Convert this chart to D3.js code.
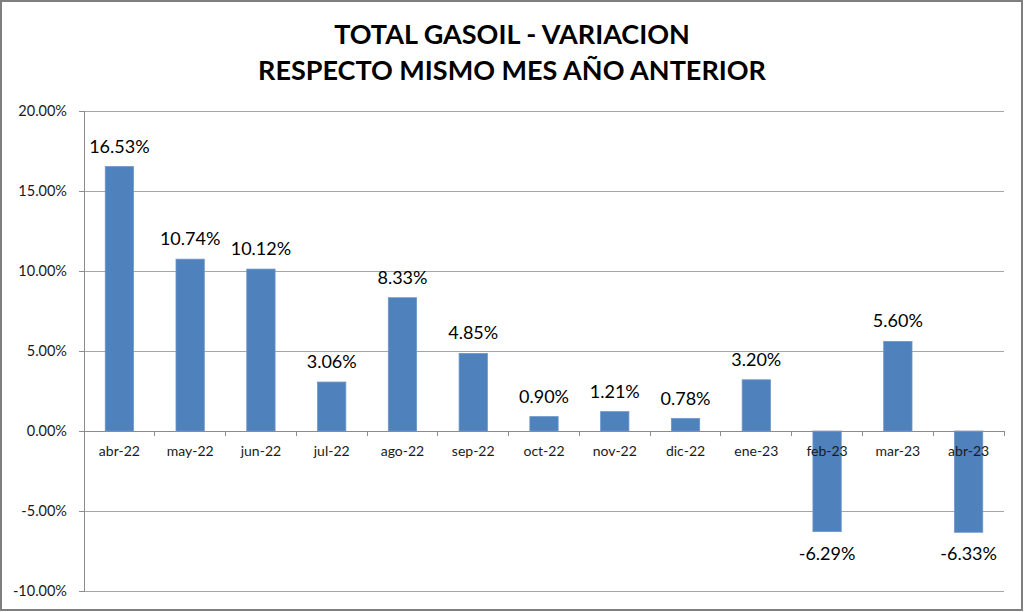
<!DOCTYPE html>
<html><head><meta charset="utf-8">
<script src="https://cdn.jsdelivr.net/npm/d3@7"></script>
<style>html,body{margin:0;padding:0;background:#fff}svg{display:block}</style>
</head><body>
<script>
const categories = ["abr-22","may-22","jun-22","jul-22","ago-22","sep-22","oct-22","nov-22","dic-22","ene-23","feb-23","mar-23","abr-23"];
const values = [16.53,10.74,10.12,3.06,8.33,4.85,0.90,1.21,0.78,3.20,-6.29,5.60,-6.33];
const yTicks = [-10,-5,0,5,10,15,20];
const titleLines = ["TOTAL GASOIL - VARIACION","RESPECTO MISMO MES AÑO ANTERIOR"];

const W = 1024, H = 612;
const m = {left:84, right:1004, top:111, bottom:591};
const font = "Lato, 'Open Sans', sans-serif";

const svg = d3.select("body").append("svg").attr("width",W).attr("height",H);
svg.append("rect").attr("x",1).attr("y",1).attr("width",W-3).attr("height",H-3)
  .attr("fill","#fff").attr("stroke","#7f7f7f").attr("stroke-width",2);

const x = d3.scaleBand().domain(categories).range([m.left,m.right]).paddingInner(0.6).paddingOuter(0.3);
const xb = d3.scaleBand().domain(categories).range([m.left,m.right]);
const y = d3.scaleLinear().domain([-10,20]).range([m.bottom,m.top]);

// gridlines
svg.append("g").selectAll("line").data(yTicks).join("line")
  .attr("x1",m.left).attr("x2",m.right).attr("y1",d=>y(d)).attr("y2",d=>y(d))
  .attr("stroke","#a6a6a6").attr("stroke-width",1).attr("shape-rendering","crispEdges");

// y axis
const yAxis = d3.axisLeft(y).tickValues(yTicks).tickSize(5).tickPadding(12).tickFormat(d=>d.toFixed(2)+"%");
const gy = svg.append("g").attr("transform",`translate(${m.left},0)`).call(yAxis);
gy.select(".domain").attr("stroke","#8c8c8c").attr("shape-rendering","crispEdges");
gy.selectAll(".tick line").attr("stroke","#8c8c8c").attr("shape-rendering","crispEdges");
gy.selectAll("text").attr("font-family",font).attr("font-size",14.5).attr("fill","#1a1a1a");

// bars
svg.append("g").selectAll("rect").data(values).join("rect")
  .attr("x",(d,i)=>x(categories[i]))
  .attr("width",x.bandwidth())
  .attr("y",d=>y(Math.max(0,d)))
  .attr("height",d=>Math.abs(y(d)-y(0)))
  .attr("fill","#4f81bd").attr("stroke","#6d97c9").attr("stroke-width",0.8);

// x axis at zero
const gx = svg.append("g").attr("transform",`translate(0,${y(0)})`);
gx.append("line").attr("x1",m.left).attr("x2",m.right).attr("y1",0).attr("y2",0)
  .attr("stroke","#8c8c8c").attr("shape-rendering","crispEdges");
const bounds = categories.map(c=>xb(c)).concat([m.right]);
gx.selectAll("line.t").data(bounds).join("line").attr("class","t")
  .attr("x1",d=>d).attr("x2",d=>d).attr("y1",0).attr("y2",5)
  .attr("stroke","#8c8c8c").attr("shape-rendering","crispEdges");
gx.selectAll("text").data(categories).join("text")
  .attr("x",d=>xb(d)+xb.bandwidth()/2).attr("y",25)
  .attr("text-anchor","middle").attr("font-family",font).attr("font-size",14).attr("fill","#1a1a1a")
  .text(d=>d);

// data labels
svg.append("g").selectAll("text").data(values).join("text")
  .attr("x",(d,i)=>xb(categories[i])+xb.bandwidth()/2)
  .attr("y",d=> d>=0 ? y(d)-14 : y(d)+28)
  .attr("text-anchor","middle").attr("font-family",font).attr("font-size",18).attr("fill","#000")
  .text(d=>d.toFixed(2)+"%");

// title
svg.append("g").selectAll("text").data(titleLines).join("text")
  .attr("x",512).attr("y",(d,i)=>44+i*36)
  .attr("text-anchor","middle").attr("font-family",font).attr("font-weight","bold")
  .attr("font-size",27).attr("fill","#000").text(d=>d);
</script>
</body></html>
